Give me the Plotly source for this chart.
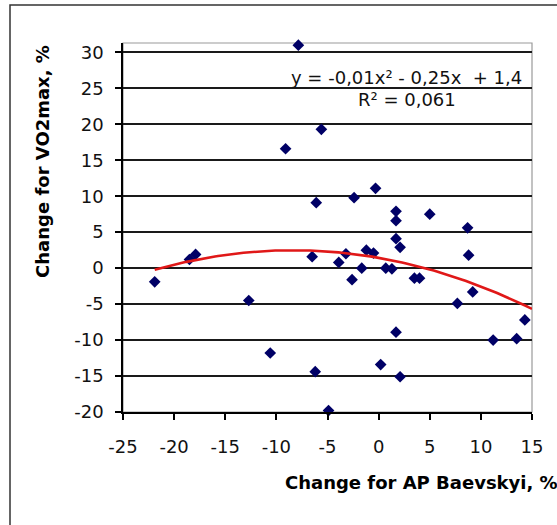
import numpy as np
import plotly.graph_objects as go

# Paired changes (%) per subject
ap_baevskyi = [-21.9, -18.5, -17.9, -12.7, -10.6, -9.1, -7.85, -6.5, -6.1, -6.2,
               -5.6, -4.9, -3.9, -3.2, -2.6, -2.4, -1.65, -1.2, -0.5, -0.3,
               0.2, 0.7, 1.3, 1.7, 1.7, 1.7, 2.1, 1.7, 2.1, 3.5,
               4.0, 5.0, 7.7, 8.7, 8.8, 9.2, 11.2, 13.5, 14.3]
vo2max = [-1.9, 1.2, 1.9, -4.5, -11.8, 16.6, 31.0, 1.6, 9.1, -14.4,
          19.3, -19.8, 0.8, 2.0, -1.6, 9.8, 0.0, 2.5, 2.1, 11.1,
          -13.4, 0.0, -0.1, 7.9, 6.6, 4.1, 2.9, -8.9, -15.1, -1.4,
          -1.4, 7.5, -4.9, 5.6, 1.8, -3.3, -10.0, -9.8, -7.2]

# Polynomial (order 2) trendline: a*x^2 + b*x + c
trend_coeffs = [-0.0149, -0.25, 1.44]
r_squared = 0.061

x_ticks = [-25, -20, -15, -10, -5, 0, 5, 10, 15]
y_ticks = [-20, -15, -10, -5, 0, 5, 10, 15, 20, 25, 30]

tx = np.linspace(min(ap_baevskyi), 15, 120)
ty = np.polyval(trend_coeffs, tx)


def fmt(v, nd):
    return f"{abs(v):.{nd}f}".replace(".", ",")


a, b, c = trend_coeffs
eq_text = (f"y = {'-' if a < 0 else ''}{fmt(a, 2)}x² {'-' if b < 0 else '+'} "
           f"{fmt(b, 2)}x  {'-' if c < 0 else '+'} {fmt(c, 1)}")
r2_text = f"R² = {fmt(r_squared, 3)}"

tick_font = dict(family="DejaVu Sans", size=18, color="#111111")
title_font = dict(family="DejaVu Sans", size=18, color="#000000")

fig = go.Figure()
fig.add_trace(go.Scatter(
    x=ap_baevskyi, y=vo2max, mode="markers",
    marker=dict(symbol="diamond", size=9, color="#000066", line=dict(width=0)),
    showlegend=False, cliponaxis=False,
))
fig.add_trace(go.Scatter(
    x=tx, y=ty, mode="lines",
    line=dict(color="#e01818", width=2.6),
    showlegend=False,
))

fig.update_layout(
    width=557, height=525,
    margin=dict(l=123, r=25, t=43, b=113),
    paper_bgcolor="white", plot_bgcolor="white",
    xaxis=dict(
        range=[-25, 15], tickvals=x_ticks,
        ticktext=[str(v) for v in x_ticks],
        showgrid=False, zeroline=False,
        showline=True, linecolor="#000000", linewidth=1.5,
        ticks="outside", ticklen=6, tickwidth=1.5, tickcolor="#000000",
        tickfont=tick_font, ticklabelstandoff=12,
    ),
    yaxis=dict(
        range=[-20, 31.3], tickvals=y_ticks,
        ticktext=[str(v) for v in y_ticks],
        showgrid=True, gridcolor="#1a1a1a", gridwidth=1.5, zeroline=False,
        showline=True, linecolor="#000000", linewidth=1.5,
        ticks="outside", ticklen=6, tickwidth=1.5, tickcolor="#000000",
        tickfont=tick_font, ticklabelstandoff=8,
    ),
    shapes=[
        # grey plot-area frame (top and right edges)
        dict(type="rect", xref="x domain", yref="y domain", x0=0, x1=1, y0=0, y1=1,
             line=dict(color="#9a9a9a", width=1.2), layer="below"),
        # outer chart-area border
        dict(type="rect", xref="paper", yref="paper",
             x0=(10 - 123) / 409, x1=1.2, y0=-0.4, y1=(412.3 - 5) / 369.3,
             line=dict(color="#333333", width=1.5)),
    ],
    annotations=[
        dict(text="<b>Change for AP Baevskyi, %</b>", xref="paper", yref="paper",
             x=(283 - 123) / 409, y=(412.3 - 483) / 369.3,
             xanchor="left", yanchor="middle", showarrow=False, font=title_font),
        dict(text="<b>Change for VO2max, %</b>", xref="paper", yref="paper",
             x=(43 - 123) / 409, y=(412.3 - 162) / 369.3, textangle=-90,
             xanchor="center", yanchor="middle", showarrow=False, font=title_font),
        dict(text=eq_text, xref="paper", yref="paper",
             x=(406 - 123) / 409, y=(412.3 - 78) / 369.3,
             xanchor="center", yanchor="middle", showarrow=False,
             font=dict(family="DejaVu Sans", size=18, color="#111111")),
        dict(text=r2_text, xref="paper", yref="paper",
             x=(407 - 123) / 409, y=(412.3 - 100) / 369.3,
             xanchor="center", yanchor="middle", showarrow=False,
             font=dict(family="DejaVu Sans", size=18, color="#111111")),
    ],
)

fig.write_html("out.html")
